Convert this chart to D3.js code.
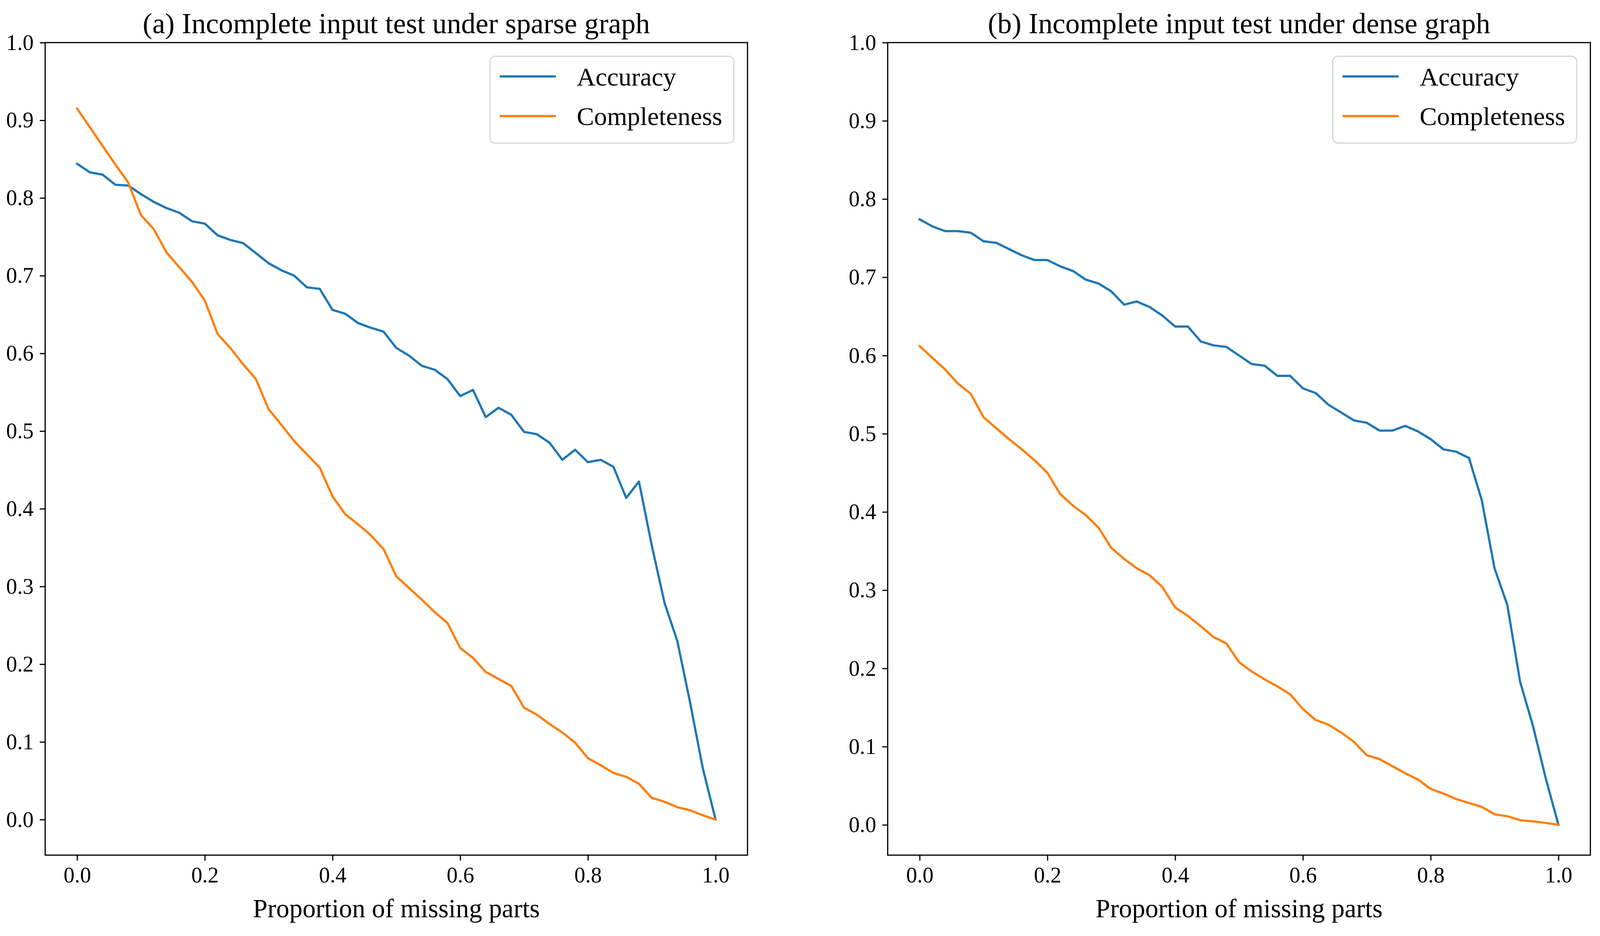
<!DOCTYPE html>
<html lang="en">
<head>
    <meta charset="UTF-8">
    <meta name="viewport" content="width=device-width, initial-scale=1.0">
    <script src="https://d3js.org/d3.v7.min.js"></script>
    <title>Incomplete input test</title>
    <style>
        html,
        body {
            margin: 0px;
            padding: 0px;
            height: 100%;
            width: 100%;
            overflow: hidden;
            background-color: #ffffff;
        }
        svg {
            display: block;
        }
        svg text {
            font-family: "Liberation Serif", "DejaVu Serif", serif;
            fill: #000;
        }
    </style>
</head>
<body>
    <div id='chart'></div>
    <script>

        // proportion of missing parts (x categories)
        let missing = [0.00, 0.02, 0.04, 0.06, 0.08, 0.10, 0.12, 0.14, 0.16, 0.18,
                       0.20, 0.22, 0.24, 0.26, 0.28, 0.30, 0.32, 0.34, 0.36, 0.38,
                       0.40, 0.42, 0.44, 0.46, 0.48, 0.50, 0.52, 0.54, 0.56, 0.58,
                       0.60, 0.62, 0.64, 0.66, 0.68, 0.70, 0.72, 0.74, 0.76, 0.78,
                       0.80, 0.82, 0.84, 0.86, 0.88, 0.90, 0.92, 0.94, 0.96, 0.98,
                       1.00];

        let sparseAccuracy = [0.844, 0.833, 0.830, 0.817, 0.816, 0.805, 0.795, 0.787, 0.781, 0.770,
                              0.767, 0.752, 0.746, 0.742, 0.729, 0.716, 0.707, 0.700, 0.685, 0.683,
                              0.656, 0.651, 0.639, 0.633, 0.628, 0.607, 0.597, 0.584, 0.579, 0.567,
                              0.545, 0.553, 0.518, 0.530, 0.521, 0.499, 0.496, 0.485, 0.463, 0.476,
                              0.460, 0.463, 0.454, 0.414, 0.435, 0.353, 0.279, 0.230, 0.151, 0.066,
                              0.000];

        let sparseCompleteness = [0.915, 0.891, 0.867, 0.843, 0.820, 0.778, 0.760, 0.730, 0.711, 0.692,
                                  0.668, 0.625, 0.607, 0.586, 0.567, 0.528, 0.508, 0.487, 0.470, 0.453,
                                  0.416, 0.393, 0.380, 0.366, 0.348, 0.313, 0.298, 0.283, 0.267, 0.253,
                                  0.221, 0.208, 0.190, 0.181, 0.172, 0.144, 0.135, 0.123, 0.112, 0.099,
                                  0.079, 0.070, 0.060, 0.055, 0.046, 0.028, 0.023, 0.016, 0.012, 0.0055,
                                  0.000];

        let denseAccuracy = [0.774, 0.765, 0.759, 0.759, 0.757, 0.746, 0.744, 0.736, 0.728, 0.722,
                             0.722, 0.714, 0.708, 0.697, 0.692, 0.682, 0.665, 0.669, 0.662, 0.651,
                             0.637, 0.637, 0.618, 0.613, 0.611, 0.600, 0.589, 0.587, 0.574, 0.574,
                             0.558, 0.552, 0.537, 0.527, 0.517, 0.514, 0.504, 0.504, 0.510, 0.503,
                             0.493, 0.480, 0.477, 0.469, 0.415, 0.328, 0.281, 0.183, 0.127, 0.060,
                             0.000];

        let denseCompleteness = [0.612, 0.597, 0.582, 0.564, 0.551, 0.521, 0.507, 0.493, 0.480, 0.466,
                                 0.450, 0.423, 0.408, 0.396, 0.380, 0.354, 0.340, 0.328, 0.319, 0.304,
                                 0.278, 0.267, 0.254, 0.240, 0.232, 0.208, 0.196, 0.186, 0.177, 0.167,
                                 0.148, 0.134, 0.128, 0.118, 0.106, 0.089, 0.084, 0.075, 0.066, 0.058,
                                 0.046, 0.040, 0.033, 0.028, 0.023, 0.0135, 0.011, 0.006, 0.0045, 0.0025,
                                 0.000];

        let xTicks = [0.0, 0.2, 0.4, 0.6, 0.8, 1.0];
        let yTicks = [0.0, 0.1, 0.2, 0.3, 0.4, 0.5, 0.6, 0.7, 0.8, 0.9, 1.0];
        let seriesNames = ['Accuracy', 'Completeness'];
        let seriesColors = ['#1f77b4', '#ff7f0e'];
        let xLabel = 'Proportion of missing parts';

        let panels = [
            { title: '(a) Incomplete input test under sparse graph', left: 136, right: 2250,
              series: [sparseAccuracy, sparseCompleteness] },
            { title: '(b) Incomplete input test under dense graph', left: 2672, right: 4787,
              series: [denseAccuracy, denseCompleteness] }
        ];

        // layout is measured on a 4816 x 2396 frame and stretched to the window
        let width = window.innerWidth;
        let height = window.innerHeight;
        let sx = width / 4816;
        let sy = height / 2396;
        let k = Math.sqrt(sx * sy);   // text and stroke scale
        let X = v => v * sx;
        let Y = v => v * sy;

        let plotTop = Y(109);
        let plotBottom = Y(2189);

        let svg = d3.select('#chart').append('svg')
            .attr('width', width)
            .attr('height', height);

        function drawPanel(p) {
            let yMax = d3.max(p.series, s => d3.max(s));
            let left = X(p.left);
            let right = X(p.right);

            let x = d3.scaleLinear().domain([-0.05, 1.05]).range([left, right]);
            let y = d3.scaleLinear().domain([-0.05 * yMax, 1.0]).range([plotBottom, plotTop]);

            let g = svg.append('g');

            // x axis
            let xAxis = g.append('g')
                .attr('transform', `translate(0,${plotBottom})`)
                .call(d3.axisBottom(x).tickValues(xTicks).tickFormat(d3.format('.1f'))
                    .tickSize(15 * k).tickSizeOuter(0).tickPadding(18 * k));
            // y axis
            let yAxis = g.append('g')
                .attr('transform', `translate(${left},0)`)
                .call(d3.axisLeft(y).tickValues(yTicks).tickFormat(d3.format('.1f'))
                    .tickSize(15 * k).tickSizeOuter(0).tickPadding(17 * k));

            [xAxis, yAxis].forEach(a => {
                a.select('.domain').remove();
                a.selectAll('line').attr('stroke', '#000').attr('stroke-width', 3.3 * k);
                a.selectAll('text')
                    .attr('font-size', 61 * k)
                    .attr('font-family', '"Liberation Serif", "DejaVu Serif", serif');
            });

            // data lines
            let line = d3.line()
                .x((d, i) => x(missing[i]))
                .y(d => y(d));

            p.series.forEach((s, i) => {
                g.append('path')
                    .datum(s)
                    .attr('d', line)
                    .attr('fill', 'none')
                    .attr('stroke', seriesColors[i])
                    .attr('stroke-width', 6.2 * k)
                    .attr('stroke-linejoin', 'round')
                    .attr('stroke-linecap', 'square');
            });

            // frame
            g.append('rect')
                .attr('x', left)
                .attr('y', plotTop)
                .attr('width', right - left)
                .attr('height', plotBottom - plotTop)
                .attr('fill', 'none')
                .attr('stroke', '#000')
                .attr('stroke-width', 3.3 * k);

            // title and label
            g.append('text')
                .attr('x', (left + right) / 2)
                .attr('y', Y(85))
                .attr('text-anchor', 'middle')
                .attr('font-size', 80 * k)
                .text(p.title);

            g.append('text')
                .attr('x', (left + right) / 2)
                .attr('y', Y(2348))
                .attr('text-anchor', 'middle')
                .attr('font-size', 73 * k)
                .text(xLabel);

            // legend
            let lw = 677 * k, lh = 241 * k;
            let lx = right - 38 * k - lw;
            let ly = plotTop + 38 * k;
            let legend = g.append('g').attr('transform', `translate(${lx},${ly})`);

            legend.append('rect')
                .attr('width', lw)
                .attr('height', lh)
                .attr('rx', 15 * k)
                .attr('fill', '#fff')
                .attr('fill-opacity', 0.8)
                .attr('stroke', '#d6d6d6')
                .attr('stroke-width', 3.3 * k);

            let rows = legend.selectAll('g.row')
                .data(seriesNames)
                .join('g')
                .attr('class', 'row')
                .attr('transform', (d, i) => `translate(0,${(56 + i * 110) * k})`);

            rows.append('line')
                .attr('x1', 27 * k)
                .attr('x2', 183 * k)
                .attr('stroke', (d, i) => seriesColors[i])
                .attr('stroke-width', 6.2 * k);

            rows.append('text')
                .attr('x', 241 * k)
                .attr('dy', '0.35em')
                .attr('font-size', 72 * k)
                .text(d => d);
        }

        panels.forEach(drawPanel);

    </script>

</body>
</html>
